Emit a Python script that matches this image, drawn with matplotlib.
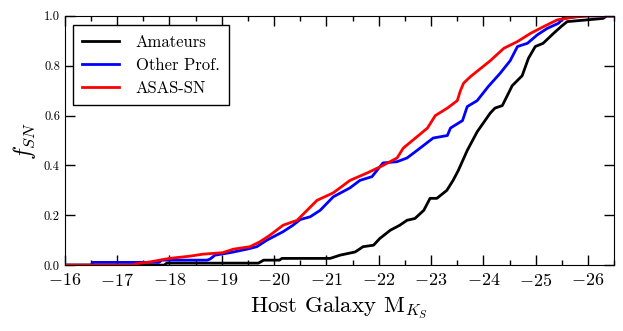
import matplotlib

matplotlib.use("Agg")
import matplotlib.pyplot as plt
from matplotlib.ticker import MultipleLocator

# cumulative host-magnitude distributions
mag_amateur = [-16.0, -17.9, -17.95, -19.7, -19.8, -20.1, -20.15, -21.07, -21.26, -21.55,
               -21.7, -21.9, -22.02, -22.22, -22.4, -22.54, -22.69, -22.86, -22.98, -23.11,
               -23.3, -23.42, -23.52, -23.69, -23.88, -24.13, -24.22, -24.36, -24.55, -24.74,
               -24.86, -24.99, -25.14, -25.34, -25.5, -25.6, -25.98, -26.29, -26.35, -26.5]
frac_amateur = [0.0, 0.0, 0.008, 0.008, 0.02, 0.02, 0.027, 0.027, 0.04, 0.053,
                0.074, 0.08, 0.107, 0.14, 0.16, 0.18, 0.187, 0.22, 0.268, 0.268,
                0.30, 0.34, 0.38, 0.46, 0.535, 0.61, 0.63, 0.64, 0.72, 0.76,
                0.83, 0.877, 0.89, 0.93, 0.96, 0.977, 0.984, 0.99, 1.0, 1.0]

mag_other = [-16.0, -16.5, -16.54, -17.8, -17.85, -18.72, -18.78, -18.87, -19.16, -19.48,
             -19.67, -19.86, -20.17, -20.36, -20.5, -20.69, -20.88, -21.13, -21.45, -21.64,
             -21.87, -22.08, -22.35, -22.54, -22.73, -23.04, -23.31, -23.37, -23.6, -23.69,
             -23.88, -24.09, -24.32, -24.51, -24.65, -24.84, -25.03, -25.22, -25.43, -25.53,
             -25.9, -26.5]
frac_other = [0.0, 0.0, 0.011, 0.011, 0.02, 0.02, 0.025, 0.04, 0.05, 0.064,
              0.074, 0.10, 0.134, 0.16, 0.183, 0.194, 0.22, 0.274, 0.31, 0.34,
              0.355, 0.41, 0.415, 0.43, 0.46, 0.51, 0.52, 0.55, 0.58, 0.636,
              0.66, 0.716, 0.77, 0.82, 0.877, 0.89, 0.924, 0.95, 0.97, 0.99,
              1.0, 1.0]

mag_asassn = [-16.0, -17.3, -17.35, -17.63, -18.0, -18.39, -18.64, -19.02, -19.22, -19.54,
              -19.73, -19.92, -20.17, -20.44, -20.63, -20.82, -21.13, -21.45, -21.78, -22.08,
              -22.35, -22.47, -22.73, -22.93, -23.08, -23.31, -23.5, -23.56, -23.62, -23.75,
              -24.13, -24.39, -24.65, -24.9, -25.15, -25.41, -25.72, -26.0, -26.5]
frac_asassn = [0.0, 0.0, 0.005, 0.013, 0.027, 0.036, 0.044, 0.05, 0.064, 0.074,
               0.094, 0.12, 0.16, 0.18, 0.22, 0.26, 0.29, 0.34, 0.37, 0.40,
               0.43, 0.47, 0.515, 0.55, 0.60, 0.63, 0.66, 0.70, 0.73, 0.756,
               0.82, 0.87, 0.897, 0.93, 0.957, 0.984, 0.995, 1.0, 1.0]

plt.rcParams["font.family"] = "cmr10"
plt.rcParams["mathtext.fontset"] = "cm"
plt.rcParams["axes.formatter.use_mathtext"] = True

fig = plt.figure(figsize=(6.23, 3.31), dpi=100)
ax = fig.add_axes([0.104, 0.199, 0.882, 0.753])

ax.plot(mag_amateur, frac_amateur, color="black", lw=2, label="Amateurs")
ax.plot(mag_other, frac_other, color="blue", lw=2, label="Other Prof.")
ax.plot(mag_asassn, frac_asassn, color="red", lw=2, label="ASAS-SN")

ax.set_xlim(-16, -26.5)
ax.set_ylim(0, 1.0)
ax.xaxis.set_major_locator(MultipleLocator(1))
ax.xaxis.set_minor_locator(MultipleLocator(0.5))
ax.yaxis.set_major_locator(MultipleLocator(0.2))
ax.tick_params(which="both", direction="in", top=True, right=True)
ax.tick_params(which="major", length=7, width=1)
ax.tick_params(which="minor", length=3.5, width=1)
ax.tick_params(axis="x", labelsize=13, pad=5)
ax.tick_params(axis="y", labelsize=9)
ax.yaxis.set_major_formatter(matplotlib.ticker.FormatStrFormatter("%.1f"))

ax.set_xlabel(r"Host Galaxy M$_{K_S}$", fontsize=16.5)
ax.set_ylabel(r"$f_{SN}$", fontsize=17)

leg = ax.legend(loc="upper left", fontsize=12, fancybox=False, framealpha=1,
                edgecolor="black", handlelength=2.2, handletextpad=1.0, borderpad=0.55,
                labelspacing=0.45, bbox_to_anchor=(0.0, 0.995))
leg.get_frame().set_linewidth(1)

fig.savefig("out.png", dpi=100)
